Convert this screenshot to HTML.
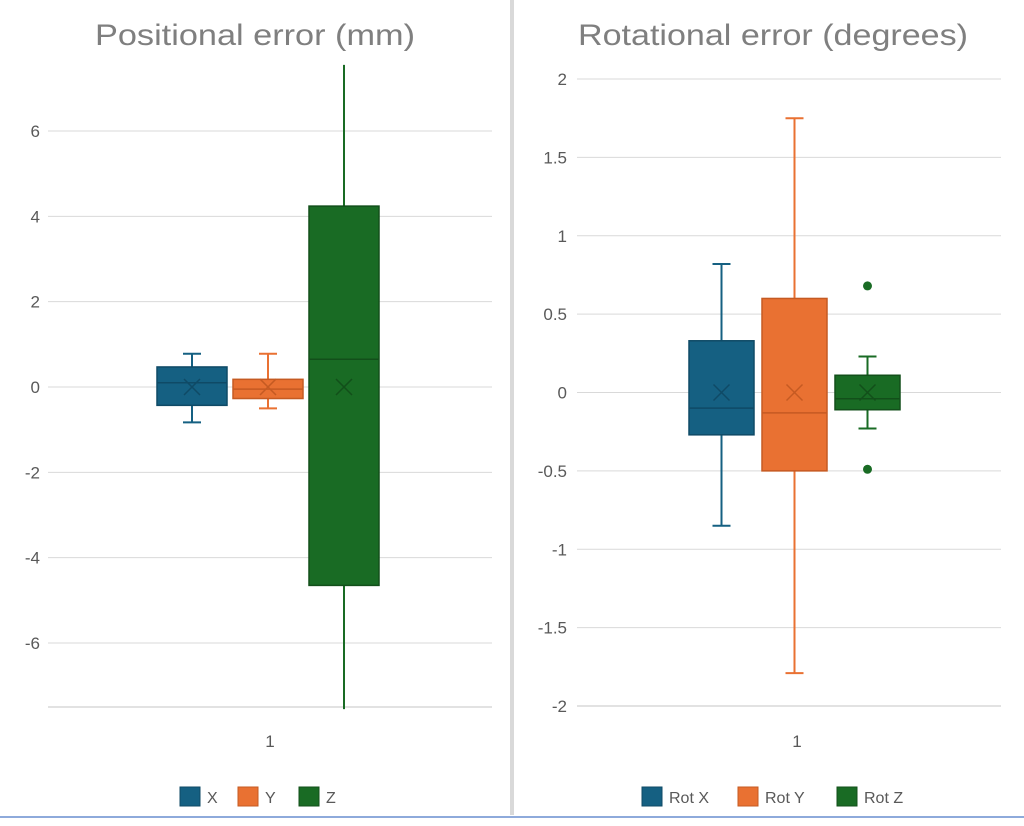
<!DOCTYPE html>
<html><head><meta charset="utf-8"><style>
body{margin:0;background:#fff;width:1024px;height:821px;overflow:hidden;font-family:"Liberation Sans",sans-serif}
svg text{font-family:"Liberation Sans",sans-serif}
</style></head><body>
<svg id="s" width="1024" height="821">
<rect x="510" y="0" width="4" height="815" fill="#d9d9d9"/>
<rect x="0" y="816" width="1024" height="2" fill="#8eaadb"/>
</svg>
<script>
const leftTicks=[-6,-4,-2,0,2,4,6];
const leftNames=["X","Y","Z"];
const leftMin=[-0.83,-0.5,-7.55];
const leftQ1=[-0.43,-0.27,-4.65];
const leftMed=[0.1,-0.05,0.65];
const leftQ3=[0.47,0.18,4.24];
const leftMax=[0.78,0.78,7.55];
const leftMean=[0,0,0];
const leftCaps=[true,true,false];
const rightTicks=[-2,-1.5,-1,-0.5,0,0.5,1,1.5,2];
const rightNames=["Rot X","Rot Y","Rot Z"];
const rightMin=[-0.85,-1.79,-0.23];
const rightQ1=[-0.27,-0.5,-0.11];
const rightMed=[-0.1,-0.13,-0.04];
const rightQ3=[0.33,0.6,0.11];
const rightMax=[0.82,1.75,0.23];
const rightMean=[0,0,0];
const rightCaps=[true,true,true];
const rightOutliers=[[],[],[0.68,-0.49]];
const colors=["#156082","#e97132","#196b24"];
const dark=["#0f4a66","#c55a22","#124f1a"];
const svg=document.getElementById('s');
const NS="http://www.w3.org/2000/svg";
function mk(t,a,p){const e=document.createElementNS(NS,t);for(const k in a)e.setAttribute(k,a[k]);(p||svg).appendChild(e);return e;}
function panel(cfg){
 const y=v=>cfg.y0-(v-cfg.vmin)/(cfg.vmax-cfg.vmin)*(cfg.y0-cfg.y1);
 const g=mk('g',{});
 
 const t=mk('text',{x:cfg.tx,y:45,'font-size':30,fill:'#7f7f7f',textLength:cfg.tw,lengthAdjust:'spacingAndGlyphs'},g);t.textContent=cfg.title;
 
 cfg.ticks.forEach(v=>{
  const l=mk('line',{x1:cfg.xl,x2:cfg.xr,y1:y(v),y2:y(v),stroke:'#d9d9d9','stroke-width':1},g);
  
  const tx=mk('text',{x:cfg.xl-cfg.lab,y:y(v)+6,'text-anchor':'end','font-size':17,fill:'#595959'},g);tx.textContent=v;
  
 });
 const ax=mk('line',{x1:cfg.xl,x2:cfg.xr,y1:cfg.y0,y2:cfg.y0,stroke:'#d9d9d9','stroke-width':1.5},g);
 
 const c=mk('text',{x:cfg.cat,y:747,'text-anchor':'middle','font-size':17,fill:'#595959'},g);c.textContent='1';
 
 cfg.names.forEach((n,i)=>{
  const x0=cfg.bx+i*cfg.step,w=cfg.bw,xc=x0+w/2;
  const bg=mk('g',{},g);
  
  mk('line',{x1:xc,x2:xc,y1:y(cfg.max[i]),y2:y(cfg.q3[i]),stroke:colors[i],'stroke-width':2},bg);
  mk('line',{x1:xc,x2:xc,y1:y(cfg.q1[i]),y2:y(cfg.min[i]),stroke:colors[i],'stroke-width':2},bg);
  if(cfg.caps[i]){[cfg.max[i],cfg.min[i]].forEach(v=>mk('line',{x1:xc-9,x2:xc+9,y1:y(v),y2:y(v),stroke:colors[i],'stroke-width':2},bg));}
  mk('rect',{x:x0,y:y(cfg.q3[i]),width:w,height:y(cfg.q1[i])-y(cfg.q3[i]),fill:colors[i],stroke:dark[i],'stroke-width':1.5},bg);
  mk('line',{x1:x0,x2:x0+w,y1:y(cfg.med[i]),y2:y(cfg.med[i]),stroke:dark[i],'stroke-width':1.5},bg);
  const my=y(cfg.mean[i]);
  mk('path',{d:`M${xc-8},${my-8}L${xc+8},${my+8}M${xc+8},${my-8}L${xc-8},${my+8}`,stroke:dark[i],'stroke-width':1.5,fill:'none'},bg);
  (cfg.out[i]||[]).forEach(v=>mk('circle',{cx:xc,cy:y(v),r:4.5,fill:colors[i]},bg));
  const lx=cfg.lx[i];
  const lg=mk('g',{},g);
  
  mk('rect',{x:lx,y:787,width:20,height:19,fill:colors[i],stroke:dark[i],'stroke-width':1},lg);
  const lt=mk('text',{x:lx+27,y:803,'font-size':16,fill:'#595959'},lg);lt.textContent=n;
 });
}
panel({id:'positional',title:'Positional error (mm)',tx:95,tw:320,xl:48,xr:492,y0:707,y1:67,vmin:-7.5,vmax:7.5,lab:8,ticks:leftTicks,names:leftNames,min:leftMin,q1:leftQ1,med:leftMed,q3:leftQ3,max:leftMax,mean:leftMean,caps:leftCaps,out:[],bx:157,bw:70,step:76,cat:270,lx:[180,238,299]});
panel({id:'rotational',title:'Rotational error (degrees)',tx:578,tw:390,xl:577,xr:1001,y0:706,y1:79,vmin:-2,vmax:2,lab:10,ticks:rightTicks,names:rightNames,min:rightMin,q1:rightQ1,med:rightMed,q3:rightQ3,max:rightMax,mean:rightMean,caps:rightCaps,out:rightOutliers,bx:689,bw:65,step:73,cat:797,lx:[642,738,837]});
</script>
</body></html>
